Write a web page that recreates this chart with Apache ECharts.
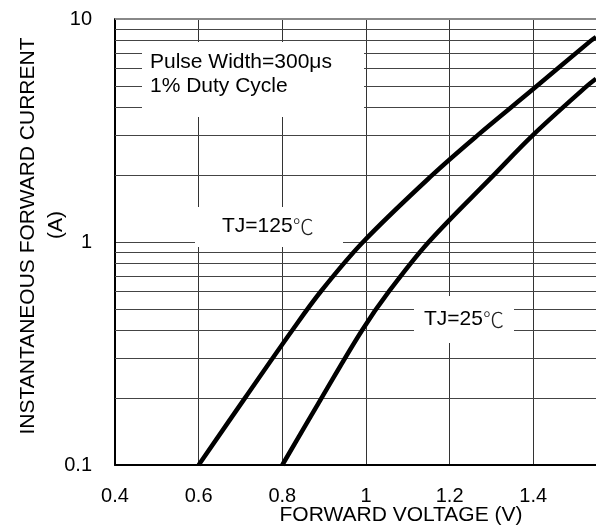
<!DOCTYPE html>
<html><head><meta charset="utf-8">
<script src="https://cdn.jsdelivr.net/npm/echarts@6/dist/echarts.min.js"></script>
<style>html,body{margin:0;padding:0;background:#fff}#c{width:596px;height:528px}</style>
</head><body><div id="c"></div>
<script>
// ---- data ----
const voltageTicks = [0.4, 0.6, 0.8, 1.0, 1.2, 1.4];
const currentTicks = [0.1, 1, 10];
const minorGrid = [0.2, 0.3, 0.4, 0.5, 0.6, 0.7, 0.8, 0.9, 2, 3, 4, 5, 6, 7, 8, 9];
const tj125 = [[0.6,0.1],[0.711,0.2],[0.823,0.4],[0.892,0.6],[0.993,1],[1.159,2],[1.266,3],[1.4,4.85],[1.538,8],[1.55,8.3]];
const tj25 = [[0.8,0.1],[0.894,0.2],[0.99,0.4],[1.055,0.6],[1.15,1],[1.306,2],[1.398,3],[1.528,5],[1.55,5.4]];
const noteLines = ['Pulse Width=300\u03bcs', '1% Duty Cycle'];
const label125 = 'TJ=125';
const label25 = 'TJ=25';
const degC = '\u2103';
const xTitle = 'FORWARD VOLTAGE (V)';
const yTitle = 'INSTANTANEOUS FORWARD CURRENT';
const yUnit = '(A)';

const FONT = 'Liberation Sans, Arial, Helvetica, sans-serif';
const chart = echarts.init(document.getElementById('c'), null, {renderer: 'canvas'});
const txt = (x, y, text, align, extra) => Object.assign({
  type: 'text', x, y, z: 101,
  style: {text, fill: '#000', fontSize: 21, fontFamily: FONT, align: align || 'left', verticalAlign: 'middle',
    rich: {deg: {fontSize: 21, fontFamily: 'Noto Sans CJK SC', fontWeight: 300, fill: '#222'}}}
}, extra || {});
const box = (x, y, w, h) => ({type: 'rect', z: 100, shape: {x, y, width: w, height: h}, style: {fill: '#fff'}});

chart.setOption({
  animation: false,
  backgroundColor: '#fff',
  grid: {left: 115, right: 0, top: 19, bottom: 63, containLabel: false, outerBoundsMode: 'none'},
  xAxis: {
    type: 'value', min: 0.4, max: 1.55, interval: 0.2,
    axisLine: {show: true, lineStyle: {color: '#000', width: 2}},
    axisTick: {show: false},
    axisLabel: {fontSize: 20, color: '#000', fontFamily: FONT, margin: 21, showMaxLabel: false,
      formatter: v => voltageTicks.some(t => Math.abs(t - v) < 1e-6) ? String(+v.toFixed(1)) : ''},
    splitLine: {show: true, lineStyle: {color: '#333', width: 1}}
  },
  yAxis: {
    type: 'log', logBase: 10, min: 0.1, max: 10,
    axisLine: {show: true, lineStyle: {color: '#000', width: 2}},
    axisTick: {show: false},
    axisLabel: {fontSize: 20, color: '#000', fontFamily: FONT, margin: 23,
      formatter: v => currentTicks.some(t => Math.abs(t - v) / t < 1e-6) ? String(v) : ''},
    splitLine: {show: true, lineStyle: {color: '#444', width: 1}}
  },
  series: [
    {
      type: 'line', data: [], z: 1,
      markLine: {
        silent: true, symbol: 'none', label: {show: false}, animation: false,
        lineStyle: {color: '#444', width: 1, type: 'solid'},
        data: minorGrid.map(v => ({yAxis: v})).concat([{yAxis: 10, lineStyle: {color: '#888', width: 2, type: 'solid'}}])
      }
    },
    {type: 'line', name: 'TJ=125', data: tj125, z: 5, showSymbol: false, smooth: 0.35,
      lineStyle: {color: '#000', width: 4.5}, clip: true},
    {type: 'line', name: 'TJ=25', data: tj25, z: 5, showSymbol: false, smooth: 0.35,
      lineStyle: {color: '#000', width: 4.5}, clip: true}
  ],
  graphic: [
    box(142, 42, 222, 75),
    box(195, 207, 148, 40),
    box(414, 296, 100, 47),
    txt(150, 62, noteLines[0]),
    txt(150, 86, noteLines[1]),
    txt(222, 226, label125 + '{deg|' + degC + '}'),
    txt(424, 319, label25 + '{deg|' + degC + '}'),
    txt(401, 515, xTitle, 'center'),
    txt(28, 236, yTitle, 'center', {rotation: Math.PI / 2}),
    txt(56, 225, yUnit, 'center', {rotation: Math.PI / 2})
  ]
});
</script>
</body></html>
